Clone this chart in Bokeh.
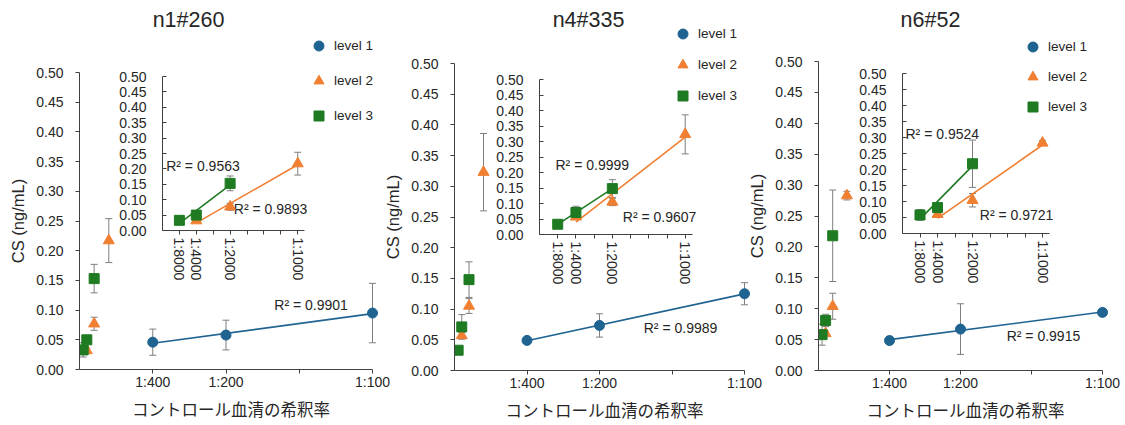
import math
import numpy as np
from bokeh.plotting import figure
from bokeh.models import (ColumnDataSource, Whisker, TeeHead, FixedTicker, NumeralTickFormatter,
                          Range1d, Label, Legend, LegendItem, GridBox)
from bokeh.embed import file_html
from bokeh.resources import INLINE

# ---------------- data ----------------
TITLES = ["n1#260", "n4#335", "n6#52"]
LEVELS = ["level 1", "level 2", "level 3"]
DIL_L1 = [400, 200, 100]
DIL_L2 = [4000, 2000, 1000]
DIL_L3 = [8000, 4000, 2000]

L1_MEAN = [[0.046, 0.058, 0.095], [0.049, 0.0734, 0.125], [0.0485, 0.067, 0.094]]
L1_ERR = [[0.022, 0.025, 0.050], [0.004, 0.019, 0.018], [0.003, 0.041, 0.003]]
L2_MEAN = [[0.032, 0.077, 0.217], [0.057, 0.105, 0.323], [0.060, 0.104, 0.283]]
L2_ERR = [[0.004, 0.011, 0.037], [0.005, 0.012, 0.063], [0.004, 0.021, 0.007]]
L3_MEAN = [[0.033, 0.050, 0.153], [0.033, 0.071, 0.148], [0.058, 0.081, 0.218]]
L3_ERR = [[0.012, 0.006, 0.024], [0.004, 0.020, 0.029], [0.017, 0.010, 0.074]]

R2_L1 = ["R² = 0.9901", "R² = 0.9989", "R² = 0.9915"]
R2_L2 = ["R² = 0.9893", "R² = 0.9607", "R² = 0.9721"]
R2_L3 = ["R² = 0.9563", "R² = 0.9999", "R² = 0.9524"]

MAIN_TICK_DIL = [400, 200, 133.33333333333334, 100]
MAIN_TICK_TEXT = ["1:400", "1:200", "", "1:100"]
INSET_TICK_DIL = [8000, 4000, 8000 / 3, 2000, 1600, 8000 / 6, 8000 / 7, 1000]
INSET_TICK_TEXT = ["1:8000", "1:4000", "", "1:2000", "", "", "", "1:1000"]
Y_TICKS = [i / 20 for i in range(11)]

X_LABEL = "コントロール血清の希釈率"
Y_LABEL = "CS (ng/mL)"

# ---------------- style / layout ----------------
BASE = 8000.0  # x unit: serum fraction of a 1:8000 dilution
MAIN_XMAX = 80.0
C1, C2, C3 = "#1F6391", "#F07F32", "#1E7B22"
ERR_C = "#7F7F7F"
AX_C = "#404040"
TXT_C = "#262626"
FONT = "Liberation Sans"
JP_FONT = "Noto Sans CJK JP"

COL_W = [110, 40, 170, 60, 15, 95, 55, 165, 30, 5, 20, 85, 45, 175, 20, 34]
ROW_H = [63, 3, 3, 71, 150, 5, 129]
MAIN_W = [395, 385, 379]
MAIN_H = 424
MAIN_BORDERS = [(79, 23, 72, 55), (74, 21, 63, 54), (73, 22, 61, 54)]
RIGHT_PAD = 10  # extra frame room right of the axis end so end markers are not cut
INSET_W = [210, 220, 220]
INSET_H = [224, 226, 232]
INSET_BORDERS = [(52, 16, 10, 60), (49, 18, 10, 61), (52, 21, 10, 62)]
OVER_W = [230, 195, 195]
OVER_H = 140
TITLE_POS = [(38, 121), (43, 121), (35, 121)]
LEGEND_POS = [(156, 12), (125, 32), (125, 21)]
LEGEND_SPACING = [10, 6, 5]
R2_L1_POS = [(53.2, 0.108), (52.2, 0.069), (53.0, 0.0566)]
R2_L3_POS = [(23.67, 0.3434), (27.86, 0.3339), (24.51, 0.383)]
R2_L2_POS = [(42.13, 0.2705), (46.43, 0.2497), (45.44, 0.2519)]
GRID_MAIN = [(0, 0, 7, 5), (0, 4, 7, 7), (0, 10, 7, 6)]
GRID_INSET = [(2, 1, 3, 2), (3, 6, 3, 2), (1, 12, 5, 2)]
GRID_OVER = [(0, 2, 4, 2), (0, 7, 4, 2), (0, 13, 4, 2)]


def xs(dils):
    return [BASE / d for d in dils]


def style_axes(p, x_ticks, x_labels, tick_in_x, tick_in_y, rotate=False):
    xa = p.xaxis[0]
    ya = p.yaxis[0]
    xa.ticker = FixedTicker(ticks=x_ticks, minor_ticks=[])
    xa.major_label_overrides = {t: s for t, s in zip(x_ticks, x_labels)}
    ya.ticker = FixedTicker(ticks=Y_TICKS, minor_ticks=[])
    ya.formatter = NumeralTickFormatter(format="0.00")
    for ax in (xa, ya):
        ax.axis_line_color = AX_C
        ax.axis_line_width = 1
        ax.major_tick_line_color = AX_C
        ax.minor_tick_line_color = None
        ax.major_label_text_font = FONT
        ax.major_label_text_font_size = "14px"
        ax.major_label_text_color = TXT_C
        ax.axis_label_text_font_style = "normal"
        ax.axis_label_text_color = TXT_C
    if rotate:
        xa.major_label_orientation = -math.pi / 2
    xa.major_tick_in, xa.major_tick_out = tick_in_x
    ya.major_tick_in, ya.major_tick_out = tick_in_y
    p.xgrid.visible = False
    p.ygrid.visible = False


def whisker(p, x, y, e, color=ERR_C):
    src = ColumnDataSource(dict(x=x, upper=[a + b for a, b in zip(y, e)],
                                lower=[a - b for a, b in zip(y, e)]))
    w = Whisker(source=src, base="x", upper="upper", lower="lower", dimension="height",
                line_color=color, line_width=1, level="underlay",
                upper_head=TeeHead(size=7, line_color=color, line_width=1),
                lower_head=TeeHead(size=7, line_color=color, line_width=1))
    p.add_layout(w)


def trend(p, x, y, color):
    k, b = np.polyfit(x, y, 1)
    x0, x1 = min(x), max(x)
    p.line([x0, x1], [k * x0 + b, k * x1 + b], line_color=color, line_width=1.6)


def r2_label(p, pos, text):
    p.add_layout(Label(x=pos[0], y=pos[1], text=text, text_align="left", text_baseline="middle",
                       text_font=FONT, text_font_size="14px", text_color=TXT_C))


def base_fig(w, h, borders, xr, yr, **kw):
    bl, br, bt, bb = borders
    return figure(width=w, height=h, output_backend="svg", toolbar_location=None,
                  x_range=xr, y_range=yr, frame_align=False,
                  min_border_left=bl, min_border_right=br, min_border_top=bt, min_border_bottom=bb,
                  outline_line_color=None, border_fill_alpha=0, background_fill_alpha=0, **kw)


mains, insets, overs = [], [], []
for i in range(3):
    x1, x2, x3 = xs(DIL_L1), xs(DIL_L2), xs(DIL_L3)

    # ---- main plot ----
    bl, br, bt, bb = MAIN_BORDERS[i]
    fw = MAIN_W[i] - bl - br
    x_end = MAIN_XMAX * (fw + RIGHT_PAD) / fw
    p = base_fig(MAIN_W[i], MAIN_H, (bl, br - RIGHT_PAD, bt, bb),
                 Range1d(0, x_end), Range1d(0, 0.5))
    style_axes(p, xs(MAIN_TICK_DIL), MAIN_TICK_TEXT, (0, 4), (0, 4))
    p.xaxis.bounds = (0, MAIN_XMAX)
    p.xaxis.major_label_standoff = 0
    p.yaxis.major_label_standoff = 12
    p.xaxis.axis_label = X_LABEL
    p.xaxis.axis_label_text_font = JP_FONT
    p.xaxis.axis_label_text_font_size = "16.5px"
    p.xaxis.axis_label_standoff = 4
    p.yaxis.axis_label = Y_LABEL
    p.yaxis.axis_label_text_font = FONT
    p.yaxis.axis_label_text_font_size = "16.5px"
    p.yaxis.axis_label_standoff = 6

    whisker(p, x1, L1_MEAN[i], L1_ERR[i])
    whisker(p, x2, L2_MEAN[i], L2_ERR[i])
    whisker(p, x3, L3_MEAN[i], L3_ERR[i])
    trend(p, x1, L1_MEAN[i], C1)
    p.scatter(x1, L1_MEAN[i], marker="circle", size=10, fill_color=C1, line_color=C1)
    p.scatter(x2, L2_MEAN[i], marker="triangle", size=11, fill_color=C2, line_color=C2)
    p.scatter(x3, L3_MEAN[i], marker="square", size=10, fill_color=C3, line_color=C3)
    r2_label(p, R2_L1_POS[i], R2_L1[i])
    # R² of the inset trend lines (placed over the inset area)
    r2_label(p, R2_L3_POS[i], R2_L3[i])
    r2_label(p, R2_L2_POS[i], R2_L2[i])
    mains.append(p)

    # ---- inset ----
    q = base_fig(INSET_W[i], INSET_H[i], INSET_BORDERS[i], Range1d(0, 8.4), Range1d(0, 0.5))
    style_axes(q, xs(INSET_TICK_DIL), INSET_TICK_TEXT, (0, 4), (4, 0), rotate=True)
    q.xaxis.major_label_standoff = 3
    q.yaxis.major_label_standoff = 16
    whisker(q, x2, L2_MEAN[i], L2_ERR[i])
    whisker(q, x3, L3_MEAN[i], L3_ERR[i])
    trend(q, x2, L2_MEAN[i], C2)
    trend(q, x3, L3_MEAN[i], C3)
    q.scatter(x2, L2_MEAN[i], marker="triangle", size=11, fill_color=C2, line_color=C2)
    q.scatter(x3, L3_MEAN[i], marker="square", size=10, fill_color=C3, line_color=C3)
    insets.append(q)

    # ---- overlay: title + legend (its ranges keep the series themselves out of view) ----
    o = base_fig(OVER_W[i], OVER_H, (0, 0, 0, 0), Range1d(-1, 0), Range1d(-1, 0),
                 x_axis_type=None, y_axis_type=None)
    o.xgrid.visible = False
    o.ygrid.visible = False
    o.add_layout(Label(x=TITLE_POS[i][0], y=TITLE_POS[i][1], x_units="screen", y_units="screen",
                       text=TITLES[i], text_align="center", text_baseline="middle",
                       text_font=FONT, text_font_size="21.5px", text_color=TXT_C))
    g1 = o.scatter(x1, L1_MEAN[i], marker="circle", size=10, fill_color=C1, line_color=C1)
    g2 = o.scatter(x2, L2_MEAN[i], marker="triangle", size=11, fill_color=C2, line_color=C2)
    g3 = o.scatter(x3, L3_MEAN[i], marker="square", size=10, fill_color=C3, line_color=C3)
    leg = Legend(items=[LegendItem(label=LEVELS[0], renderers=[g1]),
                        LegendItem(label=LEVELS[1], renderers=[g2]),
                        LegendItem(label=LEVELS[2], renderers=[g3])],
                 location=LEGEND_POS[i], orientation="vertical", padding=0, margin=0,
                 spacing=LEGEND_SPACING[i], glyph_width=25, glyph_height=25, label_height=25,
                 label_standoff=3, label_text_font=FONT, label_text_font_size="13.5px",
                 label_text_color=TXT_C, border_line_alpha=0, background_fill_alpha=0)
    o.add_layout(leg)
    overs.append(o)

children = []
for i in range(3):
    children.append((mains[i],) + GRID_MAIN[i])
for i in range(3):
    children.append((insets[i],) + GRID_INSET[i])
for i in range(3):
    children.append((overs[i],) + GRID_OVER[i])

grid = GridBox(children=children, rows=[f"{h}px" for h in ROW_H],
               cols=[f"{w}px" for w in COL_W], spacing=0)

open("out.html", "w").write(file_html(grid, INLINE))
